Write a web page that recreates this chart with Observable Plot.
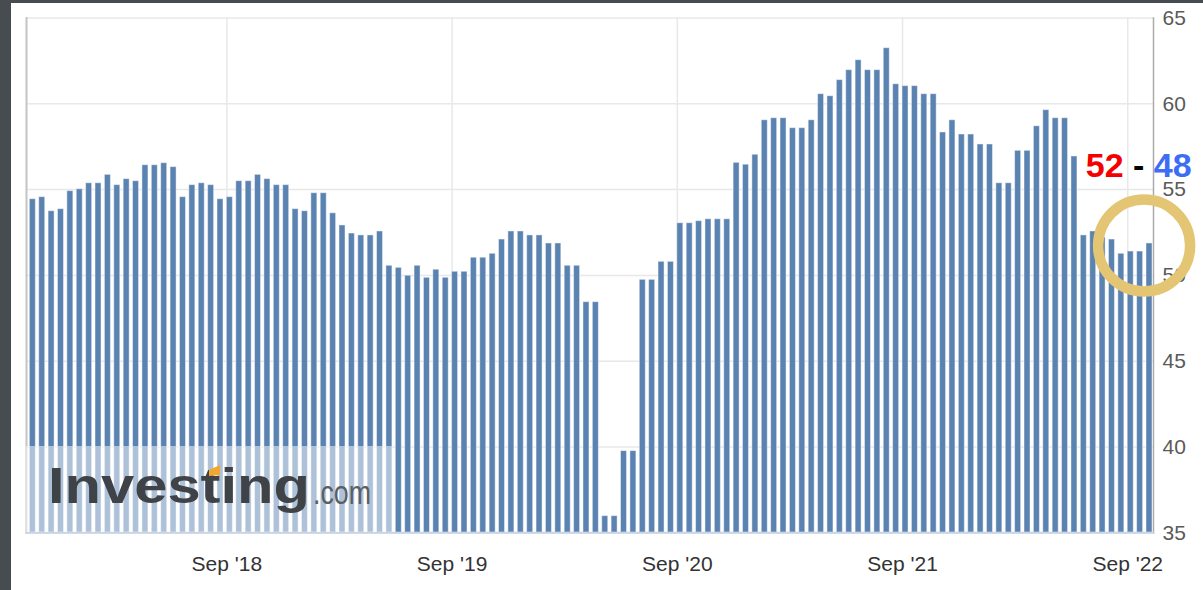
<!DOCTYPE html>
<html>
<head>
<meta charset="utf-8">
<script src="https://cdn.jsdelivr.net/npm/d3@7"></script>
<script src="https://cdn.jsdelivr.net/npm/@observablehq/plot@0.6"></script>
<style>
  html, body { margin: 0; padding: 0; background: #464c50; }
  body { width: 1203px; height: 590px; overflow: hidden; }
  #panel { position: absolute; left: 11px; top: 3px; width: 1192px; height: 587px; background: #fff; }
  #watermark { position: absolute; left: 26px; top: 446px; width: 366px; height: 86px;
               background: rgba(255,255,255,0.5); pointer-events: none; }
</style>
</head>
<body>
<div id="panel"></div>
<div id="watermark">
  <svg width="366" height="86" style="display:block;overflow:visible">
    <text x="22" y="57" font-family="Liberation Sans, Arial, sans-serif" font-size="50" font-weight="bold"
          fill="#3f4348" textLength="262" lengthAdjust="spacingAndGlyphs">Investing</text>
    <polygon points="183,24 194,19 194,29 183,30" fill="#f0a830"/>
    <text x="287" y="58" font-family="Liberation Sans, Arial, sans-serif" font-size="33"
          fill="#5b5f64" textLength="58" lengthAdjust="spacingAndGlyphs">.com</text>
  </svg>
</div>
<script>
// PMI readings, two bars per month (flash, final), Oct 2017 .. Sep 2022
const values = [
  54.44, 54.56, 53.74, 53.86, 54.91, 55.02, 55.37, 55.37, 55.86, 55.26,
  55.61, 55.49, 56.42, 56.42, 56.54, 56.31, 54.56, 55.26, 55.37, 55.26,
  54.44, 54.56, 55.49, 55.49, 55.86, 55.61, 55.26, 55.26, 53.86, 53.74,
  54.79, 54.79, 53.62, 52.91, 52.44, 52.33, 52.33, 52.56, 50.56, 50.44,
  49.98, 50.56, 49.86, 50.33, 49.86, 50.21, 50.21, 51.03, 51.03, 51.26,
  52.09, 52.56, 52.56, 52.33, 52.33, 51.86, 51.86, 50.56, 50.56, 48.44,
  48.44, 35.97, 35.97, 39.76, 39.76, 49.74, 49.74, 50.79, 50.79, 53.04,
  53.04, 53.16, 53.27, 53.27, 53.27, 56.56, 56.45, 57.03, 59.04, 59.16,
  59.16, 58.58, 58.58, 59.04, 60.56, 60.44, 61.38, 61.96, 62.54, 61.96,
  61.96, 63.24, 61.14, 61.03, 61.03, 60.56, 60.56, 58.33, 59.04, 58.21,
  58.21, 57.63, 57.63, 55.37, 55.37, 57.26, 57.26, 58.69, 59.63, 59.16,
  59.16, 56.93, 52.33, 52.56, 52.2, 52.09, 51.26, 51.39, 51.39, 51.86
];
const barIndex = d3.range(values.length);
const xTickBars = [21, 45, 69, 93, 117];
const xTickLabels = ["Sep '18", "Sep '19", "Sep '20", "Sep '21", "Sep '22"];
const yTicks = [35, 40, 45, 50, 55, 60, 65];
const noteText = ["52", " - ", "48"];
const noteColors = ["#f50000", "#000000", "#3c6ef5"];
const noteAnchor = [{i: 112, v: 55.75}];
const ringAnchor = [{i: 118, v: 51.74}];

const table = values.map((v, i) => ({i, v}));
const labelOf = new Map(xTickBars.map((b, k) => [b, xTickLabels[k]]));
const font = "Liberation Sans, Arial, Helvetica, sans-serif";

const chart = Plot.plot({
  width: 1192,
  height: 587,
  marginLeft: 15,
  marginRight: 50,
  marginTop: 14.5,
  marginBottom: 57.7,
  x: {type: "band", domain: barIndex, paddingInner: 0.36, paddingOuter: 0.23, align: 0.77, label: null},
  y: {domain: [35, 65], label: null},
  style: {fontFamily: font, fontSize: "21px", background: "transparent", overflow: "visible"},
  marks: [
    Plot.gridY(yTicks, {stroke: "#e8e8e8", strokeOpacity: 1, strokeWidth: 1.5}),
    Plot.gridX(xTickBars, {stroke: "#e8e8e8", strokeOpacity: 1, strokeWidth: 1.5, dx: -3}),
    Plot.barY(table, {x: "i", y1: 35, y2: "v", fill: "#5b83b1", stroke: "#ffffff", strokeOpacity: 0.45, strokeWidth: 1}),
    Plot.frame({anchor: "left", stroke: "#c4c4c4", strokeWidth: 2}),
    Plot.frame({anchor: "right", stroke: "#ababab", strokeWidth: 1.5}),
    Plot.frame({anchor: "bottom", stroke: "#c6d4e4", strokeWidth: 2}),
    Plot.axisX({ticks: xTickBars, tickFormat: (d) => labelOf.get(d), tickSize: 0, tickPadding: 23.5,
                dx: -3, fill: "#333333", fontSize: 21, fontFamily: font, label: null}),
    Plot.axisY({anchor: "right", ticks: yTicks, tickSize: 0, tickPadding: 9,
                fill: "#5a5a5a", fontSize: 21, fontFamily: font, label: null}),
    Plot.text(noteAnchor, {x: "i", y: "v", text: () => noteText.join(""), textAnchor: "start",
                lineAnchor: "bottom", dx: 2, fontSize: 34, fontWeight: "bold", fontFamily: font,
                fill: "#000"}),
    Plot.dot(ringAnchor, {x: "i", y: "v", r: 46, dx: 4, fill: "none", stroke: "#e3c574", strokeWidth: 10.5})
  ]
});

// colour the parts of the note
const joined = noteText.join("");
chart.querySelectorAll("text").forEach((t) => {
  if (t.textContent === joined) {
    while (t.firstChild) t.removeChild(t.firstChild);
    noteText.forEach((s, k) => {
      const ts = document.createElementNS("http://www.w3.org/2000/svg", "tspan");
      ts.setAttribute("fill", noteColors[k]);
      ts.style.fill = noteColors[k];
      ts.textContent = s;
      t.appendChild(ts);
    });
  }
});
document.getElementById("panel").appendChild(chart);
</script>
</body>
</html>
